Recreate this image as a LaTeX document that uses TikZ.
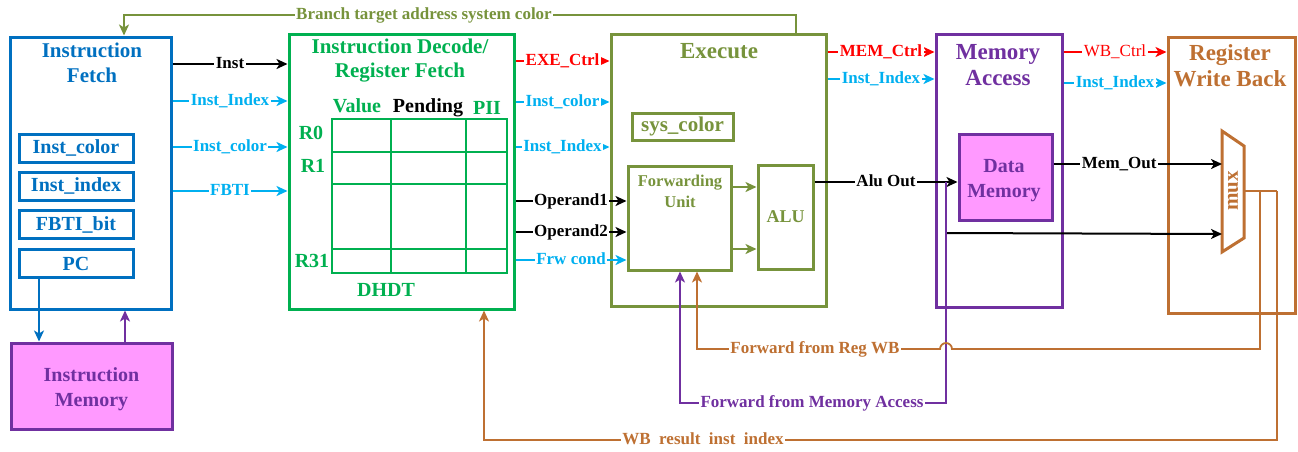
\documentclass[tikz,border=0pt]{standalone}
\usepackage{fontspec}
\setmainfont{Liberation Serif}
\usetikzlibrary{arrows.meta,calc}

\definecolor{ifblue}{HTML}{0070C0}
\definecolor{sigcyan}{HTML}{00B0F0}
\definecolor{idgreen}{HTML}{00B050}
\definecolor{exolive}{HTML}{77933C}
\definecolor{mempurple}{HTML}{7030A0}
\definecolor{wborange}{RGB}{190,112,50}
\definecolor{memfill}{HTML}{FF99FF}
\definecolor{ctrlred}{HTML}{FF0000}

\begin{document}
\begin{tikzpicture}[x=1pt,y=-1pt,
  >={Stealth[length=11pt,width=10pt,inset=3pt]},
  stage/.style={draw, line width=3pt, inner sep=0pt},
  title/.style={align=center, inner sep=0pt, font=\fontsize{21}{24.5}\selectfont\bfseries},
  titlebig/.style={align=center, inner sep=0pt, font=\fontsize{23}{26}\selectfont\bfseries},
  regbox/.style={draw=ifblue, line width=3pt, minimum width=114, minimum height=28,
    inner sep=0pt, text=ifblue, font=\fontsize{20}{24}\selectfont\bfseries},
  memblk/.style={draw=mempurple, fill=memfill, line width=3pt, inner sep=0pt},
  memtext/.style={align=center, inner sep=0pt, text=mempurple,
    font=\fontsize{20}{25}\selectfont\bfseries},
  hdr/.style={anchor=base, inner sep=0pt, font=\fontsize{20}{24}\selectfont\bfseries},
  wire/.style={line width=2pt, ->},
  fb/.style={line width=1.8pt, ->},
  lab/.style={fill=white, inner sep=1.5pt, text height=11.5pt, text depth=3.5pt,
    font=\fontsize{17}{20}\selectfont\bfseries},
  labreg/.style={fill=white, inner sep=1.5pt, text height=11.5pt, text depth=3.5pt,
    font=\fontsize{17}{20}\selectfont}
]
\useasboundingbox (0,0) rectangle (1298,451);

% ---------- pipeline stages ----------
\node[stage, draw=ifblue,    minimum width=161, minimum height=272] (IF)  at (90.5,173) {};
\node[stage, draw=idgreen,   minimum width=225, minimum height=275] (ID)  at (401.5,171.5) {};
\node[stage, draw=exolive,   minimum width=215, minimum height=272] (EX)  at (718.5,170) {};
\node[stage, draw=mempurple, minimum width=126, minimum height=273] (MEM) at (999,170.5) {};
\node[stage, draw=wborange,  minimum width=127, minimum height=276] (WB)  at (1231.5,175) {};

\node[title, text=ifblue]        (IFt)  at (92,63)     {Instruction\\Fetch};
\node[title, text=idgreen]       (IDt)  at (400,60.5)  {Instruction Decode/\\Register Fetch};
\node[titlebig, text=exolive]    (EXt)  at (719,51)    {Execute};
\node[titlebig, text=mempurple]  (MEMt) at (998,65)    {Memory\\Access};
\node[titlebig, text=wborange]   (WBt)  at (1230,66)   {Register\\Write Back};

% ---------- instruction fetch registers ----------
\node[regbox] (IC)   at (76,148)   {Inst\_color};
\node[regbox] (II)   at (76,186)   {Inst\_index};
\node[regbox] (FB)   at (76,224.5) {FBTI\_bit};
\node[regbox] (PC)   at (76,263.5) {PC};

\node[memblk, minimum width=161, minimum height=86] (IM) at (91.5,386) {};
\node[memtext] (IMt) at (91.5,389) {Instruction\\Memory};

\draw[wire, ifblue]    (PC.south -| 39,0)  -- (IM.north -| 39,0);
\draw[wire, mempurple] (IM.north -| 125,0) -- (IF.south -| 125,0);

% ---------- DHDT table ----------
\node[draw=idgreen, line width=2.5pt, minimum width=175, minimum height=154,
      inner sep=0pt, outer sep=0pt] (TBL) at (419.5,196) {};
\draw[idgreen, line width=2.5pt]
  (391,119) -- (391,273) (466,119) -- (466,273)
  (332,152) -- (507,152) (332,184) -- (507,184) (332,249) -- (507,249);
\node[hdr, text=idgreen] (hv)  at (357,112) {Value};
\node[hdr, text=black]   (hp)  at (428,112) {Pending};
\node[hdr, text=idgreen] (hi)  at (487,114) {PII};
\node[hdr, text=idgreen] (r0)  at (311,139) {R0};
\node[hdr, text=idgreen] (r1)  at (313,172) {R1};
\node[hdr, text=idgreen] (r31) at (312,267) {R31};
\node[hdr, text=idgreen] (dh)  at (386,296) {DHDT};

% ---------- execute internals ----------
\node[draw=exolive, line width=3pt, minimum width=101, minimum height=27, inner sep=0pt,
      text=exolive, font=\fontsize{21}{24}\selectfont\bfseries] (SC) at (682.5,126.5) {sys\_color};
\node[draw=exolive, line width=3pt, minimum width=103, minimum height=104, inner sep=0pt] (FU) at (679.5,218) {};
\node[align=center, inner sep=0pt, text=exolive, font=\fontsize{16.5}{21}\selectfont\bfseries]
  (FUt) at (680,191) {Forwarding\\Unit};
\node[draw=exolive, line width=3pt, minimum width=55, minimum height=104, inner sep=0pt,
      text=exolive, font=\fontsize{18}{21}\selectfont\bfseries] (ALU) at (785.5,217) {ALU};
\draw[wire, exolive] (FU.east |- 0,187) -- (ALU.west |- 0,187);
\draw[wire, exolive] (FU.east |- 0,249) -- (ALU.west |- 0,249);

% ---------- memory access internals ----------
\node[memblk, minimum width=93, minimum height=86] (DM) at (1005.5,177) {};
\node[memtext] (DMt) at (1004,181) {Data\\Memory};

% ---------- write-back multiplexer ----------
\node[minimum width=22, minimum height=121, inner sep=0pt, outer sep=0pt] (MUX) at (1233,191.5) {};
\draw[wborange, line width=3pt, line join=miter]
  (MUX.north west) -- ($(MUX.north east)+(0,15)$) -- ($(MUX.south east)+(0,-14)$)
  -- (MUX.south west) -- cycle;
\node[rotate=90, inner sep=0pt, text=wborange, font=\fontsize{21}{24}\selectfont\bfseries]
  (MUXt) at (1233,191) {mux};

% ---------- IF -> ID ----------
\draw[wire, black]   (IF.east |- 0,64)  -- node[lab]{Inst}        (ID.west |- 0,64);
\draw[wire, sigcyan] (IF.east |- 0,101) -- node[lab]{Inst\_Index} (ID.west |- 0,101);
\draw[wire, sigcyan] (IF.east |- 0,147) -- node[lab]{Inst\_color} (ID.west |- 0,147);
\draw[wire, sigcyan] (IF.east |- 0,191) -- node[lab]{FBTI}        (ID.west |- 0,191);

% ---------- ID -> EX ----------
\draw[wire, ctrlred] (ID.east |- 0,61)  -- node[lab]{EXE\_Ctrl}   (EX.west |- 0,61);
\draw[wire, sigcyan] (ID.east |- 0,102) -- node[lab]{Inst\_color} (EX.west |- 0,102);
\draw[wire, sigcyan] (ID.east |- 0,147) -- node[lab]{Inst\_Index} (EX.west |- 0,147);
\draw[wire, black]   (ID.east |- 0,201) -- node[lab]{Operand1}    (FU.west |- 0,201);
\draw[wire, black]   (ID.east |- 0,232) -- node[lab]{Operand2}    (FU.west |- 0,232);
\draw[wire, sigcyan] (ID.east |- 0,260) -- node[lab]{Frw cond}    (FU.west |- 0,260);

% ---------- EX -> MEM ----------
\draw[wire, ctrlred] (EX.east |- 0,52) -- node[lab]{MEM\_Ctrl}   (MEM.west |- 0,52);
\draw[wire, sigcyan] (EX.east |- 0,79) -- node[lab]{Inst\_Index} (MEM.west |- 0,79);
\draw[wire, black]   (ALU.east |- 0,182) -- node[lab]{Alu Out}   (DM.west |- 0,182);

% ---------- MEM -> WB ----------
\draw[wire, ctrlred] (MEM.east |- 0,52) -- node[labreg]{WB\_Ctrl}  (WB.west |- 0,52);
\draw[wire, sigcyan] (MEM.east |- 0,83) -- node[lab]{Inst\_Index} (WB.west |- 0,83);
\draw[wire, black]   (DM.east |- 0,164) -- node[lab, pos=0.39]{Mem\_Out} (MUX.west |- 0,164);

\coordinate (tap) at (946,182);
\draw[wire, black] (tap |- 0,233) -- (MUX.west |- 0,234);

% ---------- feedback paths ----------
\coordinate (mo)  at (MUX.east |- 0,191);
\coordinate (mo1) at (1260,191);
\coordinate (mo2) at (1277,191);
\draw[wborange, line width=1.6pt] (mo) -- (mo2);

\draw[fb, mempurple] (tap) -- (946,403) -- (680,403) -- (FU.south -| 680,0);
\node[lab, text=mempurple] (fma) at (812,403) {Forward from Memory Access};

\draw[fb, wborange] (mo1) -- (1260,349) -- (952,349) arc[start angle=0, end angle=180, radius=6pt]
  -- (697,349) -- (FU.south -| 697,0);
\node[lab, text=wborange] (frw) at (815,349) {Forward from Reg WB};

\draw[fb, wborange] (mo2) -- (1277,440) -- (484,440) -- (ID.south -| 484,0);
\node[lab, text=wborange] (wbr) at (703,440) {WB\ \ result\ \ inst\ \ index};

\draw[wire, exolive] (EX.north -| 796,0) -- (796,15) -- (124,15) -- (IF.north -| 124,0);
\node[lab, text=exolive] (bta) at (424,15) {Branch target address system color};

\end{tikzpicture}
\end{document}
